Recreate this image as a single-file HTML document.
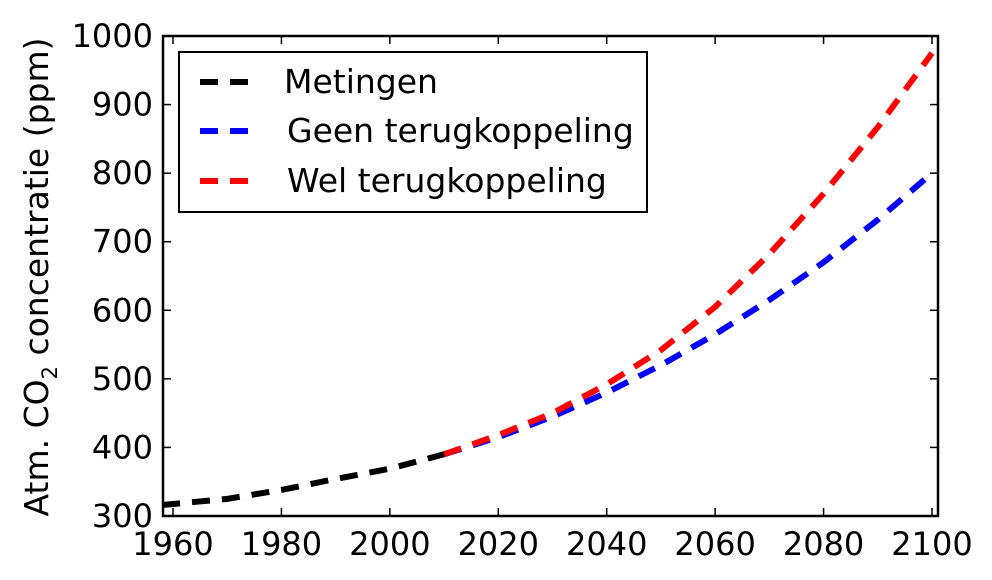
<!DOCTYPE html>
<html><head><meta charset="utf-8"><style>body{margin:0;background:#fff}svg{display:block}text{font-family:"DejaVu Sans","Liberation Sans",sans-serif;fill:#000}</style></head>
<body>
<svg id="s" width="992" height="580" xmlns="http://www.w3.org/2000/svg">
<g id="curves" fill="none" stroke-width="6" stroke-dasharray="18,12"></g>
<rect x="163" y="36" width="775" height="480" fill="none" stroke="#000" stroke-width="2.5"/>
<g id="ticks" stroke="#000" stroke-width="1.5"></g>
<g id="labels" font-size="32"></g>
<text transform="translate(48,277) rotate(-90)" font-size="33" text-anchor="middle">Atm. CO<tspan font-size="21" dy="9">2</tspan><tspan dy="-9"> concentratie (ppm)</tspan></text>
<rect x="179" y="52" width="468" height="160" fill="#fff" stroke="#000" stroke-width="2"/>
<g stroke-width="6" stroke-dasharray="18,12">
<line x1="200" y1="82" x2="252" y2="82" stroke="#000"/>
<line x1="200" y1="131" x2="252" y2="131" stroke="#00f"/>
<line x1="200" y1="181" x2="252" y2="181" stroke="#f00"/>
</g>
<g font-size="33"><text x="284" y="93">Metingen</text><text x="287" y="142">Geen terugkoppeling</text><text x="287" y="192">Wel terugkoppeling</text></g>
</svg>
<script>
const X=t=>173+(t-1960)*5.4214, Y=v=>516-(v-300)*0.6857;
const ns="http://www.w3.org/2000/svg";
function pl(pts,c){const p=document.createElementNS(ns,"polyline");p.setAttribute("points",pts.map(a=>X(a[0])+","+Y(a[1])).join(" "));p.setAttribute("stroke",c);document.getElementById("curves").appendChild(p);}
pl([[2010,390],[2020,415],[2030,445],[2040,480],[2050,520],[2060,565],[2070,615],[2080,670],[2090,732],[2100,800]],"#00f");
pl([[2010,390],[2020,418],[2030,450],[2040,492],[2050,542],[2060,605],[2070,682],[2080,770],[2090,867],[2100,975]],"#f00");
pl([[1958,316],[1970,325],[1980,338],[1990,354],[2000,369],[2010,390]],"#000");
const tk=document.getElementById("ticks"),lb=document.getElementById("labels");
function el(n,a,par,txt){const e=document.createElementNS(ns,n);for(const k in a)e.setAttribute(k,a[k]);if(txt)e.textContent=txt;par.appendChild(e);}
for(let t=1960;t<=2100;t+=20){const x=X(t);el("line",{x1:x,y1:516,x2:x,y2:508},tk);el("line",{x1:x,y1:36,x2:x,y2:44},tk);el("text",{x:x,y:555,"text-anchor":"middle"},lb,t);}
for(let v=300;v<=1000;v+=100){const y=Y(v);el("line",{x1:163,y1:y,x2:171,y2:y},tk);el("line",{x1:938,y1:y,x2:930,y2:y},tk);el("text",{x:153,y:y+11,"text-anchor":"end"},lb,v);}
</script>
</body></html>
